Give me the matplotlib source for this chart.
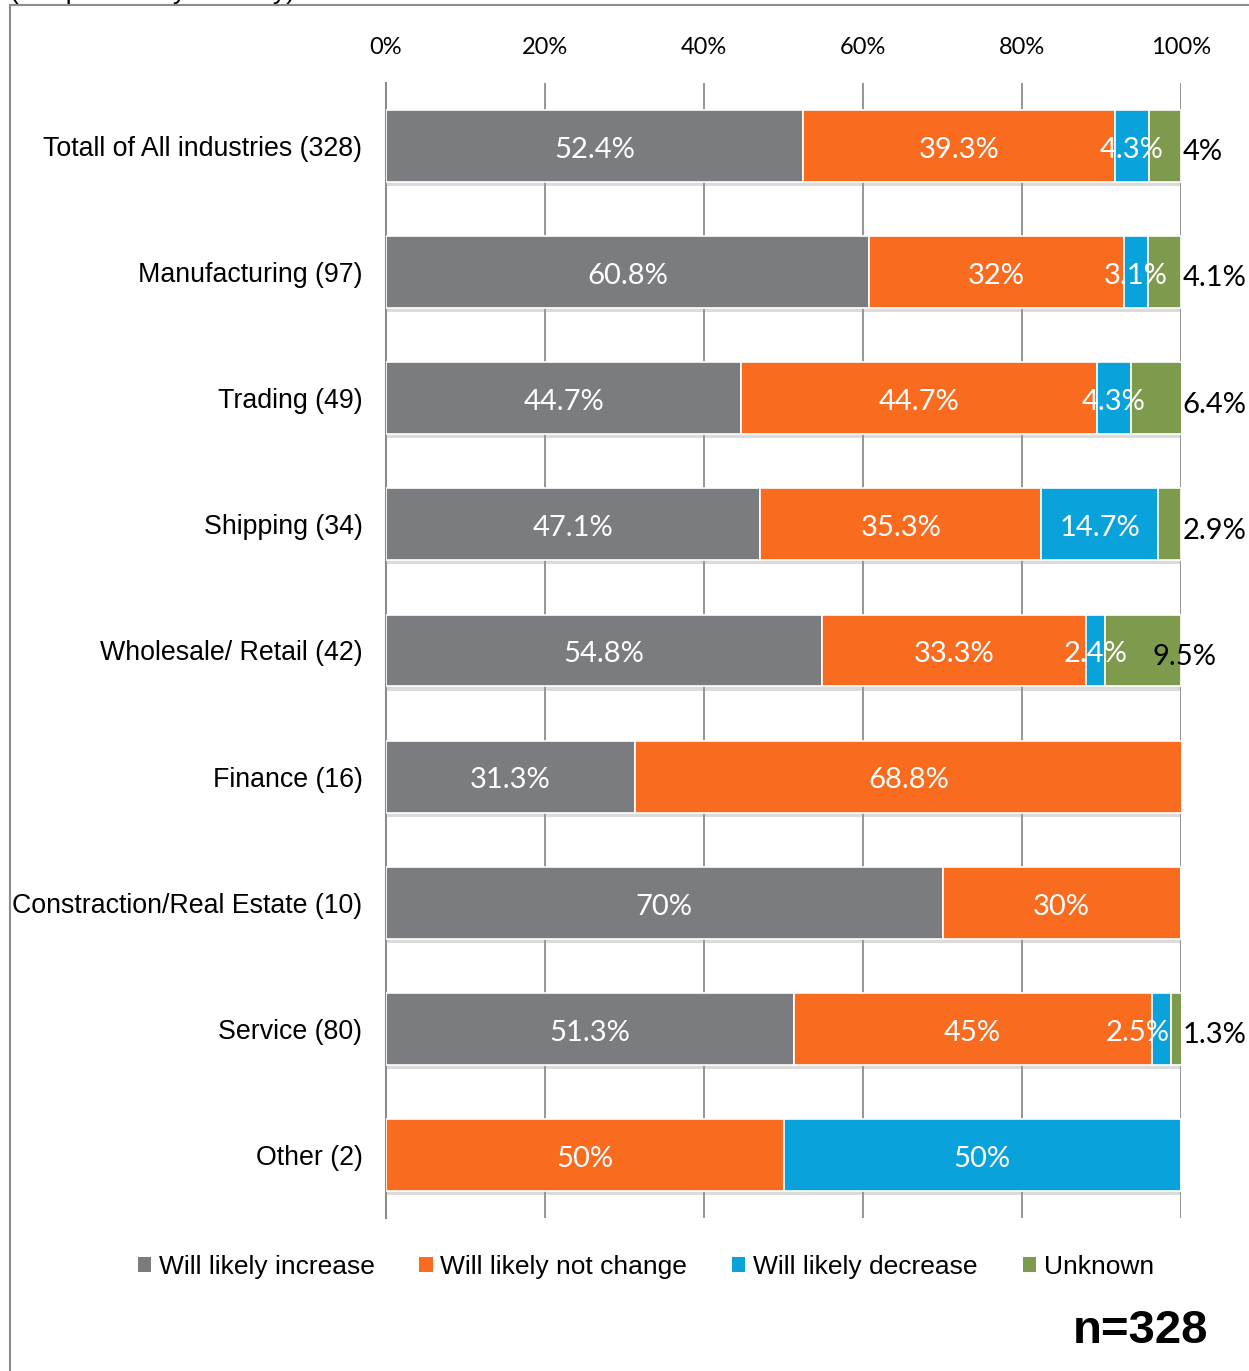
import matplotlib
matplotlib.use("Agg")
import matplotlib.pyplot as plt
import matplotlib.patheffects as pe
from matplotlib.lines import Line2D
from matplotlib.patches import Patch
import numpy as np

categories = ["Totall of All industries (328)", "Manufacturing (97)", "Trading (49)",
              "Shipping (34)", "Wholesale/ Retail (42)", "Finance (16)",
              "Constraction/Real Estate (10)", "Service (80)", "Other (2)"]
increase = [52.4, 60.8, 44.7, 47.1, 54.8, 31.3, 70, 51.3, 0]
no_change = [39.3, 32, 44.7, 35.3, 33.3, 68.8, 30, 45, 50]
decrease = [4.3, 3.1, 4.3, 14.7, 2.4, 0, 0, 2.5, 50]
unknown = [4, 4.1, 6.4, 2.9, 9.5, 0, 0, 1.3, 0]
series_names = ["Will likely increase", "Will likely not change", "Will likely decrease", "Unknown"]
colors = ["#7B7C80", "#F96B1E", "#0AA2DA", "#7E9A4C"]
xticks = [0, 20, 40, 60, 80, 100]

W, H = 1249, 1371
fig = plt.figure(figsize=(W / 100, H / 100), dpi=100)
ax = fig.add_axes([386 / W, 1 - 1218 / H, (1181 - 386) / W, (1218 - 83) / H])

label_font = "Lato"
text_font = "Liberation Sans"

y = np.arange(len(categories))
series = [increase, no_change, decrease, unknown]
left = np.zeros(len(categories))
shadow = [pe.SimplePatchShadow(offset=(0, -3), shadow_rgbFace="#9a9a9a", alpha=0.35), pe.Normal()]
for si, (vals, col, name) in enumerate(zip(series, colors, series_names)):
    vals = np.array(vals, dtype=float)
    bars = ax.barh(y, vals, left=left, height=0.57, color=col, edgecolor="white",
                   linewidth=1.2, zorder=3)
    for b in bars:
        b.set_path_effects(shadow)
    for i, v in enumerate(vals):
        if v <= 0:
            continue
        cx = left[i] + v / 2
        txt = f"{v:g}%"
        if si == 3:
            if v < 8:
                ax.text(100.2, y[i] + 0.05, txt, ha="left", va="center", color="black",
                        fontsize=21, family=label_font, zorder=5)
            else:
                ax.text(cx + 5.2, y[i] + 0.05, txt, ha="center", va="center", color="black",
                        fontsize=21, family=label_font, zorder=5)
        else:
            ax.text(min(cx, 94.5), y[i] + 0.03, txt, ha="center", va="center", color="white",
                    fontsize=21, family=label_font, zorder=5)
    left = left + vals

ax.set_xlim(0, 100)
ax.set_ylim(len(categories) - 0.5, -0.5)
ax.set_xticks(xticks)
ax.set_xticklabels([f"{t}%" for t in xticks], family=label_font, fontsize=17)
ax.xaxis.tick_top()
ax.tick_params(axis="x", length=0, pad=18)
ax.set_yticks(y)
ax.set_yticklabels(categories, family=text_font, fontsize=19.3)
ax.tick_params(axis="y", length=0, pad=17)
ax.grid(axis="x", color="#8c8c8c", linewidth=1.3, zorder=0)
ax.set_axisbelow(True)
for s in ["top", "right", "bottom"]:
    ax.spines[s].set_visible(False)
ax.spines["left"].set_color("#8c8c8c")
ax.spines["left"].set_linewidth(1.5)

handles = [Patch(facecolor=c, edgecolor="none", label=n) for c, n in zip(colors, series_names)]
fig.legend(handles=handles, loc="center", bbox_to_anchor=(0.517, 1 - 1267 / H), ncol=4,
           frameon=False, prop={"family": text_font, "size": 19}, handlelength=0.5,
           handleheight=0.5, handletextpad=0.3, columnspacing=1.7)

fig.text(1208 / W, 1 - 1331 / H, "n=328", ha="right", va="center", fontsize=34,
         fontweight="bold", family=text_font)

# frame and cut-off title
fig.add_artist(Line2D([10 / W, 10 / W], [0, 1 - 5 / H], color="#8c8c8c", lw=1.5,
                      transform=fig.transFigure))
fig.add_artist(Line2D([10 / W, 1], [1 - 5 / H, 1 - 5 / H], color="#8c8c8c", lw=1.5,
                      transform=fig.transFigure))
fig.text(10 / W, 1 + 1 / H, "(Responses by industry)", ha="left", va="baseline",
         fontsize=19, family=text_font)

fig.savefig("out.png", dpi=100, facecolor="white")
